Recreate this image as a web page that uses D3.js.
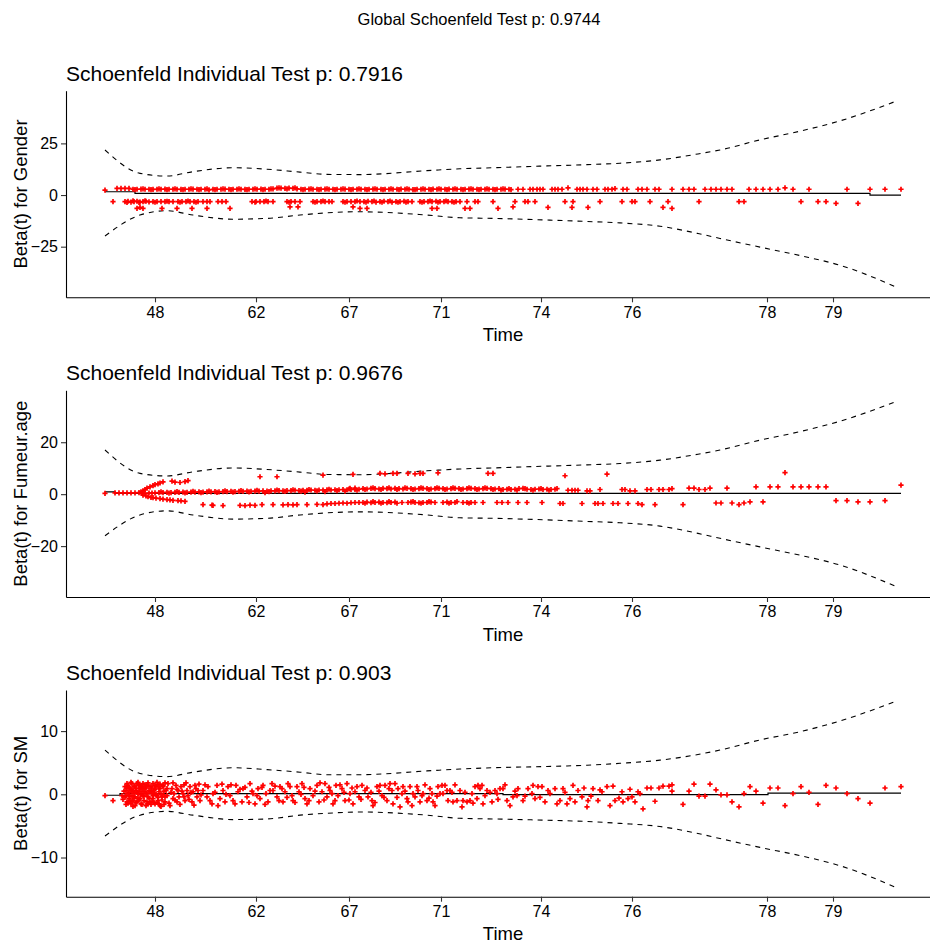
<!DOCTYPE html>
<html><head><meta charset="utf-8">
<script src="https://cdn.jsdelivr.net/npm/d3@7"></script>
<style>
body{margin:0;background:#fff;}
svg{display:block;font-family:"Liberation Sans",Arial,sans-serif;}
</style>
</head><body>
<svg id="chart" width="930" height="943"></svg>
<script>
// ---------------- DATA ----------------
const globalTitle = "Global Schoenfeld Test p: 0.9744";
const panelTitles = ["Schoenfeld Individual Test p: 0.7916","Schoenfeld Individual Test p: 0.9676","Schoenfeld Individual Test p: 0.903"];
const yLabels = ["Beta(t) for Gender","Beta(t) for Fumeur.age","Beta(t) for SM"];
const xLabel = "Time";
// x = rank of the event time (transformed time scale)
const xTickRanks = [50,151,244,336,436,527,662,728];
const xTickLabels = ["48","62","67","71","74","76","78","79"];
const yTicksGender = [-25,0,25];
const yTicksFumeur = [-20,0,20];
const yTicksSM = [-10,0,10];

// confidence band knots (rank)
const ciRanks = [0,35,62,88,128,162,195,222,255,322,355,388,442,482,515,555,593,615,655,695,735,792];
const genderUpper = [21.8,10.5,9.2,11.3,13.2,12.5,11.1,10.0,9.9,11.8,12.7,13.2,14.1,14.7,15.4,17.0,19.9,21.8,26.7,30.9,35.9,45.6];
const genderLower = [-19.8,-9.7,-7.6,-9.7,-11.7,-11.3,-9.7,-8.6,-8.1,-9.7,-11.0,-11.3,-12.1,-12.8,-13.5,-15.1,-18.6,-21.0,-25.2,-29.3,-34.0,-44.7];
const fumeurUpper = [17.0,8.0,7.0,8.6,10.1,9.5,8.5,7.6,7.5,9.0,9.7,10.1,10.8,11.3,11.8,13.1,15.4,17.0,20.8,24.1,28.1,35.8];
const fumeurLower = [-16.0,-8.0,-6.4,-8.0,-9.6,-9.3,-8.0,-7.2,-6.8,-8.0,-9.1,-9.3,-9.9,-10.5,-11.0,-12.3,-15.1,-17.0,-20.3,-23.5,-27.3,-35.7];
const smUpper = [7.0,3.3,2.8,3.5,4.2,3.9,3.5,3.1,3.1,3.7,4.0,4.2,4.4,4.6,4.9,5.4,6.3,7.0,8.6,9.9,11.6,14.8];
const smLower = [-6.6,-3.3,-2.7,-3.3,-4.0,-3.9,-3.3,-3.0,-2.8,-3.3,-3.8,-3.9,-4.1,-4.3,-4.6,-5.1,-6.2,-7.0,-8.4,-9.7,-11.3,-14.8];

// fitted beta(t)
const genderFitX = [0,30,30,765,765,796];
const genderFitY = [1.6,1.6,0.8,0.8,0.0,0.0];
const fumeurFitX = [0,10,10,796];
const fumeurFitY = [0.9,0.9,0.3,0.3];
const smFitX = [0,15,15,398,398,663,663,796];
const smFitY = [-0.15,-0.15,0.1,0.1,-0.05,-0.05,0.2,0.2];

// scaled Schoenfeld residuals [rank, value]
const genderResid = [
[0,2.4],[12,3.2],[16,3.2],[20,3.2],[24,3.2],
[28,2.8],[32,2.8],[36,2.9],[40,2.8],[44,2.8],[48,2.7],[52,2.8],[56,2.8],[60,2.9],[64,2.8],[68,2.8],[72,2.8],[76,2.7],[80,2.8],[84,2.8],[88,2.9],[92,2.8],[96,2.8],[100,2.8],[104,2.5],[108,2.8],[112,2.8],[116,2.8],[120,2.9],[124,2.8],[128,2.8],[132,2.8],[136,2.8],[140,2.7],[144,2.8],[148,2.8],[152,2.8],[156,2.9],[160,2.8],[164,2.8],[168,3.0],[172,3.3],[176,3.3],[180,3.2],[184,3.3],[188,3.2],[192,3.0],[196,2.8],[200,2.8],[204,2.9],[208,2.8],[212,2.8],[216,2.8],[220,2.9],[224,2.8],[228,2.8],[232,2.8],[236,2.8],[240,2.9],[244,2.8],[248,2.8],[252,2.8],[256,2.8],[260,2.8],[264,2.8],[268,2.9],[272,2.8],[276,2.8],[280,2.8],[284,2.8],[288,2.8],[292,2.8],[296,2.9],[300,2.8],[304,2.8],[308,2.6],[312,2.8],[316,2.8],[320,2.8],[324,2.8],[328,2.9],[332,2.8],[336,2.8],[340,2.8],[344,2.9],[348,2.8],[352,2.8],[356,2.8],[360,2.8],[364,2.9],[368,2.8],[372,2.8],[376,2.8],[380,2.8],[384,2.8],[388,2.8],[392,2.8],[396,2.8],[400,2.9],[404,2.8],
[30,2.6],[38,3.0],[46,2.6],[54,3.0],[62,2.6],[70,3.0],[78,2.6],[86,3.0],[94,2.6],[102,3.0],[110,2.6],[118,3.0],[126,2.6],[134,3.0],[142,2.6],[150,3.0],[158,2.6],[166,3.0],[174,3.5],[182,3.0],[190,3.5],[198,2.6],[206,3.0],[214,2.6],[222,3.0],[230,2.6],[238,3.0],[246,2.6],[254,3.0],[262,2.6],[270,3.0],[278,2.6],[286,3.0],[294,2.6],[302,3.0],[310,2.6],[318,3.0],[326,2.6],[334,3.0],[342,2.6],[350,3.0],[358,2.6],[366,3.0],[374,2.6],[382,3.0],[390,2.6],[398,3.0],[406,2.6],
[413,2.8],[418,2.8],[425,2.8],[428,2.8],[432,2.8],[435,2.8],[438,2.8],[447,2.8],[450,2.8],[453,2.8],[457,2.8],[463,3.5],[472,2.8],[475,2.8],[478,2.8],[482,2.8],[488,2.8],[492,2.8],[500,2.8],[503,2.8],[507,2.8],[510,3.1],[518,2.8],[522,2.8],[533,2.8],[537,2.8],[542,2.8],[550,2.8],[554,2.8],[567,2.8],[578,2.8],[584,2.8],[589,2.8],[600,2.8],[606,2.8],[611,2.8],[616,2.8],[622,2.8],[627,2.8],[644,2.8],[651,2.8],[658,2.8],[665,2.8],[673,2.8],[680,3.5],[688,2.8],[704,2.8],[742,2.8],[765,2.8],[780,2.8],[796,2.8],
[8,-3.2],[20,-3.2],[23,-3.0],[26,-3.4],[29,-3.2],[32,-3.0],[35,-3.4],[38,-3.2],[41,-3.0],[44,-3.3],[32,-6.5],[35,-6.0],[38,-6.5],[48,-3.2],[52,-3.2],[56,-3.2],[60,-3.2],[64,-3.2],[68,-3.2],[57,-6.5],[72,-6.5],[73,-3.2],[77,-3.2],[81,-3.2],[85,-3.2],[89,-3.2],[93,-3.2],[87,-6.5],[98,-3.2],[102,-3.2],[105,-3.2],[102,-6.5],[113,-3.2],[117,-3.2],[121,-3.2],[125,-6.5],[147,-3.2],[151,-3.2],[155,-3.2],[159,-3.2],[163,-3.2],[168,-3.2],[182,-3.2],[186,-3.2],[190,-3.2],[195,-3.2],[185,-5.7],[193,-5.7],[208,-3.2],[212,-3.2],[216,-3.2],[220,-3.2],[224,-3.2],[227,-3.2],[238,-3.2],[242,-3.2],[246,-3.2],[250,-3.2],[255,-3.2],[248,-5.7],
[22,-3.6],[28,-2.8],[34,-3.6],[40,-2.8],[50,-3.5],[62,-3.0],[75,-3.5],[83,-2.9],[91,-3.5],[150,-3.5],[161,-2.9],[184,-3.5],[210,-3.5],[218,-2.9],[240,-3.5],[252,-2.9],[261,-3.5],[269,-2.9],[277,-3.5],[285,-2.9],[293,-3.5],[301,-3.4],[317,-3.5],[325,-2.9],[333,-3.5],[341,-2.9],[349,-3.5],
[259,-3.2],[263,-3.0],[267,-3.2],[271,-3.4],[275,-3.2],[279,-3.0],[283,-3.2],[287,-3.4],[291,-3.2],[295,-3.2],[299,-3.0],[303,-3.2],[307,-3.2],[255,-6.5],[262,-6.5],[315,-3.2],[319,-3.2],[323,-3.2],[327,-3.2],[331,-3.0],[335,-3.2],[339,-3.2],[343,-3.2],[347,-3.2],[351,-3.2],[355,-3.2],[327,-6.5],[332,-6.5],[362,-3.2],[360,-6.5],[365,-6.5],[370,-3.2],[373,-3.2],[388,-3.2],[393,-6.5],[408,-5.7],[410,-3.2],[420,-3.2],[423,-3.2],[430,-3.2],[443,-6.0],[460,-3.2],[467,-6.0],[468,-3.2],[483,-6.0],[495,-3.2],[517,-3.2],[527,-3.2],[530,-3.2],[545,-3.2],[558,-6.0],[563,-3.2],[567,-6.5],[594,-3.2],[634,-3.2],[639,-3.2],[696,-3.2],[713,-3.2],[721,-3.2],[731,-4.0],[753,-4.0]
];

const fumeurResid = [
[0,0.3],[10,0.5],[14,0.5],[18,0.5],[22,0.5],[26,0.5],[30,0.5],[34,0.6],
[36,0.9],[38,1.3],[40,1.8],[42,2.3],[45,2.8],[48,3.3],[50,3.7],[53,4.0],[55,4.3],[58,4.7],[67,5.0],[70,4.6],[75,4.5],[80,4.8],[83,5.2],
[38,-0.4],[41,-0.7],[43,-1.0],[46,-1.2],[48,-1.3],[51,-1.5],[55,-1.7],[58,-1.9],[62,-2.1],[65,-2.2],[68,-2.4],[73,-2.5],[76,-2.6],[80,-2.8],
[37,0.3],[40,0.3],[44,0.4],[47,0.4],[50,0.5],
[54,0.6],[58,0.6],[62,0.7],[66,0.6],[70,0.7],[74,0.7],[78,0.8],[82,0.7],[86,0.8],[90,0.8],[94,0.9],[98,0.8],[102,0.9],[106,0.9],[110,1.0],[114,0.9],[118,1.0],[122,1.0],[126,1.1],[130,1.0],[134,1.1],[138,1.1],[142,1.2],[146,1.1],[150,1.2],[154,1.2],[158,1.3],[162,1.2],[166,1.3],[170,1.3],[174,1.4],[178,1.3],[182,1.4],[186,1.4],[190,1.5],[194,1.4],[198,1.5],[202,1.5],[206,1.6],[210,1.5],[214,1.6],[218,1.6],[222,1.7],[226,1.6],[230,1.7],[234,1.7],[238,1.8],[242,1.7],[246,1.8],[250,1.8],[254,1.9],
[56,0.9],[64,0.4],[72,1.0],[80,0.5],[88,1.1],[96,0.6],[104,1.2],[112,0.7],[120,1.3],[128,0.8],[136,1.4],[144,0.9],[152,1.5],[164,1.0],[172,1.6],[180,1.1],[188,1.7],[196,1.2],[204,1.8],[212,1.3],[224,1.9],[232,1.4],[244,2.0],[252,1.5],
[160,0.6],[200,0.8],[220,1.0],[240,1.2],[245,2.2],[250,2.3],
[98,-4.0],[107,-4.2],[108,-4.3],[118,-4.4],[135,-4.3],[140,-4.4],[145,-4.2],[150,-4.3],[157,-4.0],[168,-4.0],[178,-4.1],[183,-4.0],[188,-4.1],[192,-4.0],[202,-4.0],[212,-3.9],[218,-4.0],[222,-3.7],[226,-3.6],[230,-3.6],[234,-3.5],[238,-3.4],[242,-3.5],[246,-3.3],[250,-3.2],[254,-3.2],
[155,6.7],[172,6.7],[218,7.3],[248,7.6],
[258,2.1],[262,2.0],[266,2.2],[270,2.1],[274,2.0],[278,2.2],[282,2.1],[286,2.0],[290,2.2],[294,2.1],[298,2.0],[302,2.2],[306,2.1],[310,2.0],[314,2.1],[318,2.2],[322,2.1],[326,2.0],[330,2.1],[334,2.2],[338,2.1],[342,2.0],[346,2.1],[350,2.2],[354,2.1],[358,2.0],[362,2.1],[366,2.2],[370,2.1],[374,2.0],[378,2.1],[382,2.2],[386,2.1],[390,2.0],[394,2.1],[398,1.8],[402,1.9],[406,1.8],[410,1.9],[414,2.1],[418,2.2],[422,1.9],[426,1.8],[430,1.9],[434,2.0],[438,1.8],[442,1.9],[446,1.8],[450,1.9],
[260,1.8],[268,2.4],[276,1.8],[284,2.4],[292,1.8],[300,2.4],[308,1.8],[316,2.4],[324,1.8],[332,2.4],[340,1.8],[348,2.4],[356,1.8],[364,2.4],[372,1.8],[380,2.4],[388,1.8],[396,1.5],[404,2.1],[412,1.5],[420,2.1],[428,1.5],[436,2.1],[444,1.5],[452,2.1],
[463,1.5],[467,1.5],[470,1.5],[473,1.5],[482,1.3],[485,1.3],[495,1.8],[517,1.8],[520,1.8],[525,1.3],[530,1.3],
[258,-3.2],[262,-3.1],[266,-3.3],[270,-3.2],[274,-3.1],[278,-3.2],[282,-3.3],[286,-3.2],[290,-3.1],[297,-3.2],[303,-3.2],[306,-3.1],[310,-3.2],[314,-3.3],[318,-3.2],[322,-3.2],[326,-3.1],[330,-3.2],[338,-3.2],[342,-3.1],[346,-3.2],[350,-3.2],[358,-3.2],[362,-3.2],[366,-3.2],[370,-3.2],[378,-3.2],
[260,-3.5],[268,-2.9],[276,-3.5],[284,-2.9],[292,-3.5],[308,-2.9],[316,-3.5],[324,-2.9],[344,-3.5],[352,-2.9],[364,-3.5],
[392,-3.2],[397,-3.2],[403,-3.2],[413,-3.2],[422,-3.2],[437,-3.2],[455,-3.6],[458,-3.6],[477,-3.6],[490,-3.6],[493,-3.6],[498,-3.6],[508,-3.6],[513,-3.6],[523,-3.6],[533,-3.6],
[275,8.0],[280,7.8],[288,8.0],[292,8.0],[303,8.0],[310,7.8],[315,8.0],[318,8.0],[333,8.2],[383,8.0],[388,8.0],[460,7.1],[502,7.7],
[542,1.8],[546,1.8],[554,1.8],[558,1.8],[564,1.8],[567,2.1],[584,2.3],[589,2.3],[594,1.8],[600,1.8],[605,2.3],[622,2.3],[651,2.8],[665,2.8],[673,2.8],[688,2.8],[696,2.8],[704,2.8],[713,2.8],[721,2.8],
[680,8.3],[796,3.5],
[537,-4.0],[550,-4.0],[578,-4.0],[611,-3.4],[616,-3.4],[627,-3.4],[634,-4.0],[639,-3.4],[645,-3.0],[658,-3.0],[731,-2.5],[742,-2.5],[753,-3.0],[765,-3.0],[780,-2.5]
];

const smResid = [
[0,-0.2],[8,-1.0],[17,-0.2],
[20,-0.4],[21,0.6],[22,-1.2],[23,1.4],[23,0.1],[24,-0.7],[25,0.9],[26,-1.5],[27,1.7],[27,-0.2],[28,0.4],[28,-1.0],[29,1.2],[30,-1.8],[30,-0.4],[31,0.6],[32,1.7],[32,-1.2],[33,0.1],[34,0.9],[35,-0.7],[35,1.4],[36,-1.5],[37,0.4],[38,-0.2],[38,1.7],[39,-1.0],[40,0.9],[41,-1.8],[42,0.1],[42,1.4],[43,-0.4],[44,0.6],[45,-1.2],[46,1.2],[47,0.1],[48,1.7],[48,-0.7],[49,0.6],[50,-1.5],[51,1.2],[52,-0.2],[53,1.5],[53,-1.0],[54,0.4],[55,0.9],[55,-1.8],
[21,-1.6],[22,1.0],[24,0.3],[25,-1.0],[26,1.9],[27,0.8],[28,-1.9],[29,-0.6],[30,1.3],[31,-1.3],[32,0.3],[33,1.9],[34,-0.9],[35,0.5],[36,1.1],[37,-1.6],[38,0.9],[39,-0.3],[40,1.5],[41,0.2],[42,-1.2],[43,1.8],[44,-0.6],[45,0.4],[46,-1.6],[47,1.0],[48,-0.2],[49,-1.3],[50,1.4],[51,0.0],[52,1.9],[53,-0.5],[54,-1.5],[55,1.6],[56,0.0],[57,-0.9],[58,1.2],[59,0.5],[60,-0.4],
[18,-0.8],[19,0.5],[20,1.2],[21,-0.2],[22,1.7],[23,-1.4],[24,1.1],[25,-0.3],[26,0.6],[27,-1.1],[29,0.2],[31,1.0],[33,-0.6],[34,1.5],[36,-0.1],[37,1.2],[39,0.4],[41,1.0],[43,-1.5],[44,1.3],[46,0.5],[47,-1.1],[49,0.2],[50,0.8],[52,-1.3],[54,1.0],[56,-1.9],[58,-0.1],[59,-1.6],[60,1.8],
[57,-0.4],[58,1.4],[60,-1.2],[61,0.6],[62,-0.2],[63,1.7],[65,-1.8],[67,0.9],[68,-0.7],[69,0.1],[71,1.4],[72,-1.2],[73,0.6],[74,-0.4],[76,1.2],[78,0.1],[79,1.5],[80,-1.0],[82,0.6],[83,-0.2],[85,1.2],[87,-1.2],[88,0.4],[90,1.4],[92,-0.4],[93,0.6],[95,-1.0],
[62,0.9],[64,-1.4],[66,0.3],[68,1.8],[70,-0.9],[72,0.8],[75,-1.6],[77,0.5],[79,-0.4],[81,1.8],[84,-0.8],[86,0.3],[89,-1.7],[91,0.9],[94,1.6],[96,-0.1],[100,1.5],[105,-1.0],[110,0.3],[113,-1.8],[117,1.6],[121,0.0],[126,1.5],[130,-1.5],[135,0.8],[140,1.1],[144,-1.3],[147,0.5],[152,-0.2],[157,1.1],[160,-1.6],[165,0.6],[170,1.3],[174,-1.0],[177,0.9],[182,-0.5],[185,1.2],[190,-1.3],[196,0.0],[199,1.1],[204,-1.0],[210,0.5],[215,1.8],[219,-0.9],[224,1.1],[227,0.1],[230,-1.0],[235,1.5],[239,0.3],[244,-0.9],[247,1.0],[250,0.4],[256,-0.8],
[98,0.6],[102,-0.4],[103,1.2],[107,-1.5],[108,0.1],[112,1.4],[115,-0.7],[118,0.6],[120,-1.2],[123,1.2],[125,-0.2],[128,-1.0],[131,1.4],[133,0.4],[137,-1.2],[138,0.9],[142,-0.4],[145,1.7],[148,0.1],[150,-1.5],[153,0.9],[155,-0.7],[158,1.4],[161,0.1],[163,-1.2],[167,1.7],[168,0.6],[172,-0.4],[175,1.2],[178,-1.2],[180,0.4],[183,1.7],[187,-0.2],[188,-1.0],[192,1.2],[194,0.4],[197,1.7],[200,-0.7],[202,-1.5],[205,0.9],[208,-0.2],[212,1.4],[214,-1.2],[217,0.4],[220,1.7],[222,-0.4],[225,0.6],[228,-1.5],[231,1.4],[233,-0.2],[237,0.9],[240,-1.0],[242,1.7],[245,0.1],[248,-1.5],[252,1.2],[254,-0.4],
[257,1.4],[260,0.6],[263,-0.4],[267,-1.0],[268,-1.8],[272,1.2],[275,1.4],[277,-0.2],[280,1.4],[282,-1.0],[285,1.7],[287,0.6],[288,-1.5],[290,1.7],[293,0.9],[295,-2.0],[297,0.1],[298,1.2],[302,-0.7],[303,-1.2],[305,1.2],[307,-1.8],[308,0.1],[312,1.2],[313,0.6],[315,-1.2],[317,-0.2],[318,0.1],[322,-1.0],[325,0.9],[327,0.1],[328,-1.2],[330,-1.8],[333,1.2],[335,0.1],[337,1.4],[338,0.1],[342,0.6],[343,-1.0],[345,0.6],[348,-1.2],[352,-1.0],[355,0.6],[357,-2.0],[358,-1.0],[362,-1.2],[365,-1.0],[367,0.1],[370,1.2],[372,-0.7],[373,1.4],[375,0.9],[378,-1.5],[380,-0.2],[382,0.6],[387,-1.2],[390,0.6],[392,0.1],[395,0.9],[398,0.9],[402,-1.0],[405,-1.8],[408,-0.4],[412,-0.2],[413,0.9],[418,-1.0],[423,0.9],[427,0.1],[430,-0.7],[433,1.2],[437,1.2],[440,-1.2],[445,0.1],[450,0.9],[455,-1.0],[458,0.9],[462,-1.5],[465,-0.7],[468,1.4],[473,0.6],[477,-0.4],[482,-2.0],[483,-1.0],[488,0.9],[493,-1.0],[497,0.4],[502,1.2],[505,-1.8],[510,-1.0],[517,0.4],[518,-1.2],[523,-0.7],[527,-0.4],[530,-1.2],[533,0.4],
[262,1.0],[266,0.3],[270,-1.3],[274,0.5],[279,-0.5],[284,0.9],[292,-0.5],[300,0.5],[310,-0.4],[320,1.5],[324,-0.6],[332,-0.3],[340,1.4],[347,0.3],[350,1.5],[360,0.3],[368,-1.4],[377,1.4],[385,0.3],[393,-0.8],[400,1.5],[410,0.5],[420,-0.3],[428,1.4],[435,-0.5],[443,0.6],[452,-1.5],[460,0.3],[470,-1.2],[479,1.0],[486,-0.3],[495,0.7],[508,1.3],[514,-0.6],[525,0.8],
[535,0.1],[538,-2.3],[542,1.0],[546,1.0],[550,-1.1],[554,1.0],[558,1.3],[564,1.3],[567,1.5],[567,0.5],[578,-1.6],[584,0.5],[589,1.6],[594,-0.3],[600,-0.3],[605,1.6],[611,0.7],[616,-0.1],[622,-0.1],[627,-1.2],[634,-2.0],[639,0.1],[645,1.2],[651,0.5],[658,-1.4],[665,1.0],[673,1.0],[680,-1.8],[688,0.1],[696,1.2],[704,0.3],[713,-1.6],[721,1.4],[731,1.0],[742,0.1],[753,-0.7],[765,-1.4],[780,1.0],[796,1.2]
];

// ---------------- DRAW ----------------
const svg = d3.select("#chart");
const x = d3.scaleLinear().domain([-39, 836]).range([66, 941]);

const panels = [
  {title: panelTitles[0], ylab: yLabels[0], top: 90.7, bottom: 297.3, yDomain: [-49.5, 50.5], yTicks: yTicksGender, upper: genderUpper, lower: genderLower, fitX: genderFitX, fitY: genderFitY, pts: genderResid},
  {title: panelTitles[1], ylab: yLabels[1], top: 390.3, bottom: 597, yDomain: [-39.6, 40], yTicks: yTicksFumeur, upper: fumeurUpper, lower: fumeurLower, fitX: fumeurFitX, fitY: fumeurFitY, pts: fumeurResid},
  {title: panelTitles[2], ylab: yLabels[2], top: 690, bottom: 896.7, yDomain: [-16.2, 16.5], yTicks: yTicksSM, upper: smUpper, lower: smLower, fitX: smFitX, fitY: smFitY, pts: smResid}
];

svg.append("text").attr("x", 479).attr("y", 25).attr("text-anchor", "middle")
  .attr("font-size", "16.5px").attr("fill", "#000").text(globalTitle);

panels.forEach(p => {
  const y = d3.scaleLinear().domain(p.yDomain).range([p.bottom, p.top]);
  const g = svg.append("g");

  const ci = d3.line().x(d => x(d[0])).y(d => y(d[1])).curve(d3.curveMonotoneX);
  g.append("path").datum(ciRanks.map((r, i) => [r, p.upper[i]])).attr("d", ci)
    .attr("fill", "none").attr("stroke", "#000").attr("stroke-width", 1.1).attr("stroke-dasharray", "5,5");
  g.append("path").datum(ciRanks.map((r, i) => [r, p.lower[i]])).attr("d", ci)
    .attr("fill", "none").attr("stroke", "#000").attr("stroke-width", 1.1).attr("stroke-dasharray", "5,5");

  const fit = d3.line().x(d => x(d[0])).y(d => y(d[1]));
  g.append("path").datum(p.fitX.map((r, i) => [r, p.fitY[i]])).attr("d", fit)
    .attr("fill", "none").attr("stroke", "#000").attr("stroke-width", 1.2);

  g.selectAll("path.pt").data(p.pts).join("path").attr("class", "pt")
    .attr("d", "M-2.6,0H2.6M0,-2.6V2.6")
    .attr("transform", d => `translate(${x(d[0])},${y(d[1])})`)
    .attr("stroke", "#ff0000").attr("stroke-width", 1.7).attr("fill", "none");

  const ya = g.append("g").attr("transform", "translate(66,0)")
    .call(d3.axisLeft(y).tickValues(p.yTicks).tickSize(5).tickSizeOuter(0).tickPadding(3));
  const xa = g.append("g").attr("transform", `translate(0,${p.bottom})`)
    .call(d3.axisBottom(x).tickValues(xTickRanks).tickFormat((d, i) => xTickLabels[i]).tickSize(5).tickSizeOuter(0).tickPadding(4));
  [ya, xa].forEach(a => {
    a.select(".domain").attr("stroke", "#000").attr("stroke-width", 1.1);
    a.selectAll(".tick line").attr("stroke", "#333").attr("stroke-width", 1.1);
    a.selectAll(".tick text").attr("fill", "#000").attr("font-size", "16px")
      .attr("font-family", "'Liberation Sans', Arial, sans-serif");
  });

  svg.append("text").attr("x", 66).attr("y", p.top - 10).attr("font-size", "21px").attr("fill", "#000").text(p.title);
  svg.append("text").attr("x", 503).attr("y", p.bottom + 43.5).attr("text-anchor", "middle")
    .attr("font-size", "18.5px").attr("fill", "#000").text(xLabel);
  svg.append("text").attr("transform", `translate(27,${(p.top + p.bottom) / 2}) rotate(-90)`)
    .attr("text-anchor", "middle").attr("font-size", "18.5px").attr("fill", "#000").text(p.ylab);
});
</script>
</body></html>
